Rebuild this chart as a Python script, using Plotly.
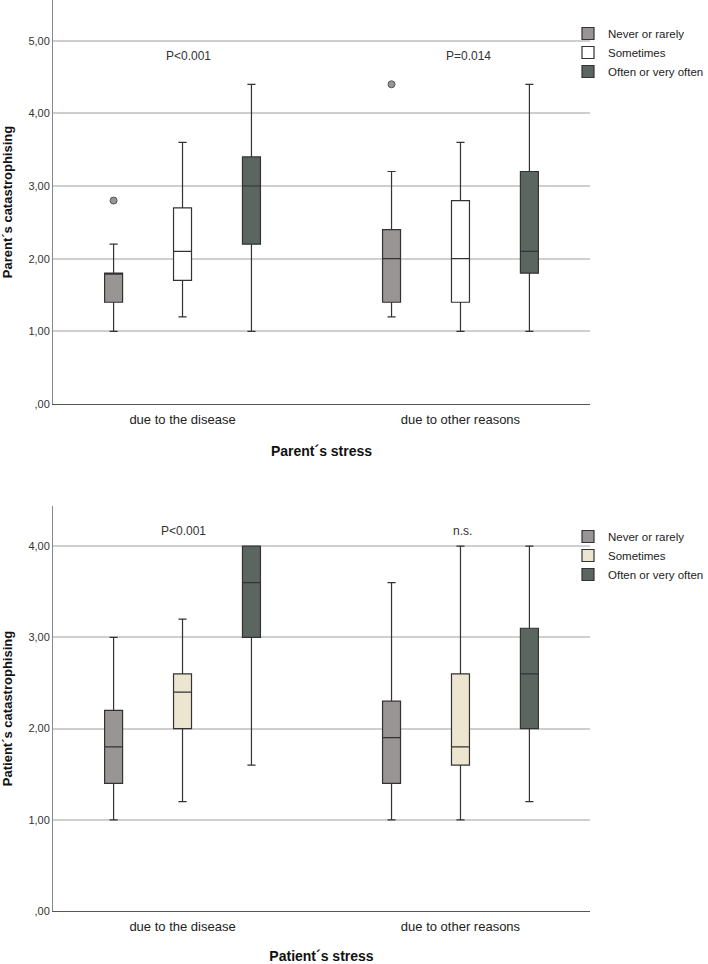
import plotly.graph_objects as go

categories = ["due to the disease", "due to other reasons"]
groups = ["Never or rarely", "Sometimes", "Often or very often"]

# Parent panel (top)
parent_low = [[1.0, 1.2], [1.2, 1.0], [1.0, 1.0]]
parent_q1 = [[1.4, 1.4], [1.7, 1.4], [2.2, 1.8]]
parent_med = [[1.8, 2.0], [2.1, 2.0], [3.0, 2.1]]
parent_q3 = [[1.8, 2.4], [2.7, 2.8], [3.4, 3.2]]
parent_high = [[2.2, 3.2], [3.6, 3.6], [4.4, 4.4]]
parent_outliers = [[[2.8], [4.4]], None, None]

# Patient panel (bottom)
patient_low = [[1.0, 1.0], [1.2, 1.0], [1.6, 1.2]]
patient_q1 = [[1.4, 1.4], [2.0, 1.6], [3.0, 2.0]]
patient_med = [[1.8, 1.9], [2.4, 1.8], [3.6, 2.6]]
patient_q3 = [[2.2, 2.3], [2.6, 2.6], [4.0, 3.1]]
patient_high = [[3.0, 3.6], [3.2, 4.0], [4.0, 4.0]]

parent_colors = ["#9a9595", "#ffffff", "#5b6661"]
patient_colors = ["#9a9595", "#ece5cf", "#5b6661"]

yticks_top = [0, 1, 2, 3, 4, 5]
yticks_top_text = [",00", "1,00", "2,00", "3,00", "4,00", "5,00"]
yticks_bot = [0, 1, 2, 3, 4]
yticks_bot_text = [",00", "1,00", "2,00", "3,00", "4,00"]

annot_top = ["P<0.001", "P=0.014"]
annot_bot = ["P<0.001", "n.s."]

FONT = "Liberation Sans, Arial, sans-serif"
W, H = 708, 964
L, R = 53, 118
PW = W - L - R

fig = go.Figure()

for i, g in enumerate(groups):
    if parent_outliers[i] is not None:
        kw = dict(y=parent_outliers[i], boxpoints="outliers", pointpos=0, jitter=0,
                  marker=dict(color="#9a9595", size=7, line=dict(color="#555555", width=1)))
    else:
        kw = dict(boxpoints=False)
    fig.add_trace(go.Box(
        name=g, x=categories,
        q1=parent_q1[i], median=parent_med[i], q3=parent_q3[i],
        lowerfence=parent_low[i], upperfence=parent_high[i],
        fillcolor=parent_colors[i], line=dict(color="#333333", width=1.2),
        whiskerwidth=0.45, xaxis="x", yaxis="y", legend="legend",
        offsetgroup=str(i), hoverinfo="skip", **kw,
    ))

for i, g in enumerate(groups):
    fig.add_trace(go.Box(
        name=g, x=categories,
        q1=patient_q1[i], median=patient_med[i], q3=patient_q3[i],
        lowerfence=patient_low[i], upperfence=patient_high[i],
        boxpoints=False,
        fillcolor=patient_colors[i], line=dict(color="#333333", width=1.2),
        whiskerwidth=0.45, xaxis="x2", yaxis="y2", legend="legend2",
        offsetgroup=str(i), hoverinfo="skip",
    ))

annotations = []
for cat, txt, xs in zip(categories, annot_top, [6, 8]):
    annotations.append(dict(x=cat, y=4.79, xref="x", yref="y", text=txt, showarrow=False,
                            xshift=xs, font=dict(family=FONT, size=12, color="#333333")))
for cat, txt, xs in zip(categories, annot_bot, [1, 2]):
    annotations.append(dict(x=cat, y=4.17, xref="x2", yref="y2", text=txt, showarrow=False,
                            xshift=xs, font=dict(family=FONT, size=12, color="#333333")))

xcommon = dict(type="category", categoryorder="array", categoryarray=categories,
               range=[-0.466, 1.466], showline=True, linecolor="#555555", linewidth=1,
               ticks="", showgrid=False, zeroline=False, ticklabelstandoff=3,
               tickfont=dict(family=FONT, size=13, color="#222222"), automargin=False)
ycommon = dict(showline=True, linecolor="#888888", linewidth=1, ticks="",
               showgrid=True, gridcolor="#cfcfcf", gridwidth=1.5, zeroline=False,
               tickfont=dict(family=FONT, size=11, color="#333333"), automargin=False)

legend_x = (568 - L) / PW

fig.update_layout(
    width=W, height=H,
    margin=dict(l=L, r=R, t=0, b=0, autoexpand=False),
    paper_bgcolor="white", plot_bgcolor="white",
    boxmode="group", boxgap=0.256, boxgroupgap=0.739,
    font=dict(family=FONT, color="#222222"),
    xaxis=dict(xcommon, domain=[0, 1], anchor="y",
               title=dict(text="<b>Parent´s stress</b>", font=dict(family=FONT, size=14, color="#111111"), standoff=20)),
    yaxis=dict(ycommon, domain=[1 - 404 / H, 1], anchor="x", range=[0, 5.56],
               tickvals=yticks_top, ticktext=yticks_top_text,
               title=dict(text="<b>Parent´s catastrophising</b>", font=dict(family=FONT, size=13, color="#111111"), standoff=12)),
    xaxis2=dict(xcommon, domain=[0, 1], anchor="y2",
                title=dict(text="<b>Patient´s stress</b>", font=dict(family=FONT, size=14, color="#111111"), standoff=20)),
    yaxis2=dict(ycommon, domain=[1 - 911 / H, 1 - 506 / H], anchor="x2", range=[0, 4.44],
                tickvals=yticks_bot, ticktext=yticks_bot_text,
                title=dict(text="<b>Patient´s catastrophising</b>", font=dict(family=FONT, size=13, color="#111111"), standoff=12)),
    legend=dict(x=legend_x, xanchor="left", y=1 - 19 / H, yanchor="top", bgcolor="rgba(0,0,0,0)",
                font=dict(family=FONT, size=11.5, color="#222222"), tracegroupgap=0),
    legend2=dict(x=legend_x, xanchor="left", y=1 - 522 / H, yanchor="top", bgcolor="rgba(0,0,0,0)",
                 font=dict(family=FONT, size=11.5, color="#222222"), tracegroupgap=0),
    annotations=annotations,
    showlegend=True,
)

fig.write_html("out.html", config={"displayModeBar": False},
               post_script="document.body.style.margin='0';")
